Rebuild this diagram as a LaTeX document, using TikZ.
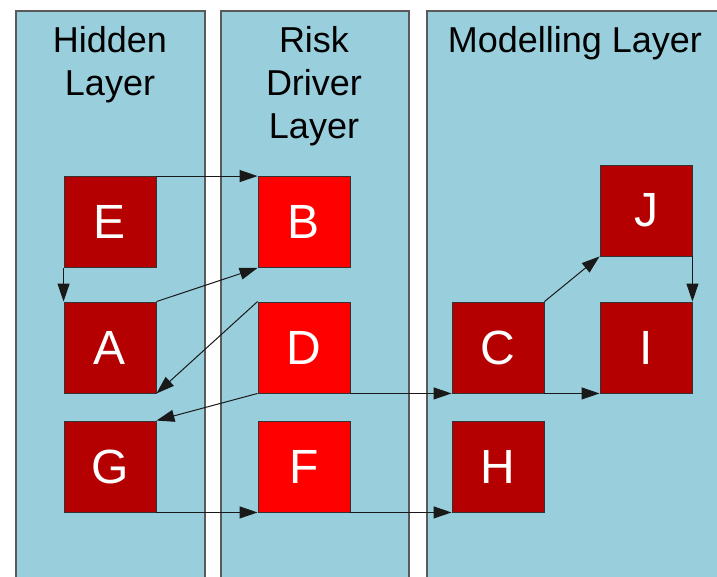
\documentclass[tikz,border=0pt]{standalone}
\usepackage{fontspec}
\setmainfont{Liberation Sans}
\usetikzlibrary{arrows.meta}
\definecolor{panelblue}{RGB}{153,207,221}
\definecolor{darkbox}{RGB}{180,0,0}
\definecolor{brightbox}{RGB}{255,0,0}
\definecolor{panelline}{RGB}{90,90,90}
\tikzset{
  x=1pt, y=1pt,
  panelfill/.style={fill=panelblue},
  panelrule/.style={draw=panelline, line width=1.3pt},
  heading/.style={align=center, font=\fontsize{36}{43}\selectfont, anchor=base, inner sep=0pt},
  boxnode/.style={minimum width=92pt, minimum height=91pt, inner sep=0pt, draw=black!80, line width=0.9pt,
    text=white, font=\fontsize{48}{50}\selectfont},
  hidden/.style={boxnode, fill=darkbox},
  driver/.style={boxnode, fill=brightbox},
  link/.style={draw=black!90, line width=1pt, -{Triangle[length=18pt,width=12pt]}}
}
\begin{document}
\begin{tikzpicture}
\useasboundingbox (0,0) rectangle (717,-576);
\fill[white] (0,0) rectangle (717,-576);

% three layer panels, open at the bottom (and at the right for the last one)
\fill[panelfill] (16,-600) rectangle (205,-11);
\fill[panelfill] (221,-600) rectangle (409,-11);
\fill[panelfill] (427,-600) rectangle (740,-11);
\draw[panelrule] (16,-600) -- (16,-11) -- (205,-11) -- (205,-600);
\draw[panelrule] (221,-600) -- (221,-11) -- (409,-11) -- (409,-600);
\draw[panelrule] (427,-600) -- (427,-11) -- (740,-11);

% panel headings (anchored at the baseline of the last line)
\node[heading] (h1) at (110,-95) {Hidden\\Layer};
\node[heading] (h2) at (314,-138) {Risk\\Driver\\Layer};
\node[heading] (h3) at (575,-52) {Modelling Layer};

% hidden layer
\node[hidden] (E) at (110,-222) {E};
\node[hidden] (A) at (110,-347.5) {A};
\node[hidden] (G) at (110,-466.5) {G};
% risk driver layer
\node[driver] (B) at (304,-222) {B};
\node[driver] (D) at (304,-347.5) {D};
\node[driver] (F) at (304,-466.5) {F};
% modelling layer
\node[hidden] (C) at (498,-347.5) {C};
\node[hidden] (H) at (498,-466.5) {H};
\node[hidden] (I) at (646,-347.5) {I};
\node[hidden] (J) at (646,-210.5) {J};

% connectors between box corners
\draw[link] (E.north east) -- (B.north west);
\draw[link] (E.south west) -- (A.north west);
\draw[link] (A.north east) -- (B.south west);
\draw[link] (D.north west) -- (A.south east);
\draw[link] (D.south west) -- (G.north east);
\draw[link] (D.south east) -- (C.south west);
\draw[link] (C.south east) -- (I.south west);
\draw[link] (C.north east) -- (J.south west);
\draw[link] (J.south east) -- (I.north east);
\draw[link] (G.south east) -- (F.south west);
\draw[link] (F.south east) -- (H.south west);
\end{tikzpicture}
\end{document}
